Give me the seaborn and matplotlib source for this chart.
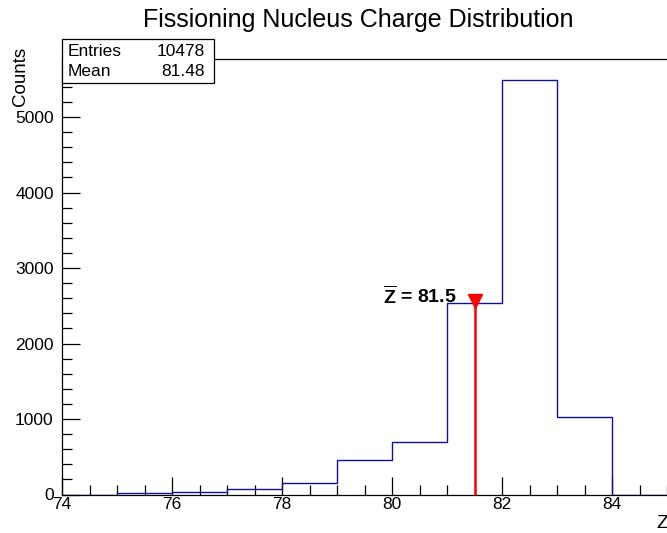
import numpy as np
import pandas as pd
import matplotlib
matplotlib.use("Agg")
import matplotlib.pyplot as plt
from matplotlib.patches import Rectangle
from matplotlib.ticker import MultipleLocator
import seaborn as sns

# ---- data ----
bin_left = [74, 75, 76, 77, 78, 79, 80, 81, 82, 83, 84]
counts = [0, 18, 30, 68, 155, 455, 695, 2540, 5495, 1022, 0]
bin_edges = list(range(74, 86))
mean_z = 81.5
stats_labels = ["Entries", "Mean"]
stats_values = ["10478", "81.48"]
title = "Fissioning Nucleus Charge Distribution"
xlabel = "Z"
ylabel = "Counts"

sns.set_style("ticks")
plt.rcParams["font.family"] = ["Liberation Sans", "DejaVu Sans"]
plt.rcParams["mathtext.fontset"] = "custom"
plt.rcParams["mathtext.rm"] = "Liberation Sans"
plt.rcParams["mathtext.bf"] = "Liberation Sans:bold"
plt.rcParams["text.color"] = "black"
plt.rcParams["axes.labelcolor"] = "black"
plt.rcParams["xtick.color"] = "black"
plt.rcParams["ytick.color"] = "black"

W, H = 667, 533
fig = plt.figure(figsize=(W / 100, H / 100), dpi=100)
ax_l, ax_r, ax_b, ax_t = 62, 667, 494.5, 59
ax = fig.add_axes([ax_l / W, 1 - ax_b / H, (ax_r - ax_l) / W, (ax_b - ax_t) / H])

df = pd.DataFrame({"z": bin_left, "n": counts})
sns.histplot(data=df, x="z", weights="n", bins=bin_edges, element="step",
             fill=False, color="#10109a", linewidth=1.0, ax=ax)

ymax = 1.05 * max(counts)
ax.set_xlim(74, 85)
ax.set_ylim(0, ymax)

# red mean marker
peak = counts[bin_left.index(int(mean_z))]
ax.vlines(mean_z, 0, peak, color="#ff0000", linewidth=1.8, zorder=3)
ax.plot([mean_z], [peak + 30], marker="v", color="#ff0000", markersize=10,
        linestyle="none", zorder=4)
ax.text(mean_z - 0.33, peak + 80, r"$\mathbf{\overline{Z}}$ = " + f"{mean_z}",
        fontsize=14, fontweight="bold", ha="right", va="center", color="black")

# axes styling (ROOT look)
ax.spines["right"].set_visible(False)
for s in ["left", "bottom", "top"]:
    ax.spines[s].set_color("black")
    ax.spines[s].set_linewidth(0.9)
ax.xaxis.set_major_locator(MultipleLocator(2))
ax.xaxis.set_minor_locator(MultipleLocator(0.5))
ax.yaxis.set_major_locator(MultipleLocator(1000))
ax.yaxis.set_minor_locator(MultipleLocator(200))
ax.tick_params(axis="both", which="major", direction="in", length=13, width=0.9,
               labelsize=12.5, colors="black")
ax.tick_params(axis="both", which="minor", direction="in", length=7, width=0.9)
ax.tick_params(axis="x", which="both", top=False, pad=2)
ax.tick_params(axis="y", which="both", right=False, pad=6)
ax.set_xlabel("")
ax.set_ylabel("")

# title and axis titles
fig.text(358 / W, 1 - 20 / H, title, ha="center", va="center", fontsize=18)
fig.text(662 / W, 1 - 523 / H, xlabel, ha="center", va="center", fontsize=14)
fig.text(20 / W, 1 - 47 / H, ylabel, ha="center", va="top", rotation=90, fontsize=13.5)

# stats box
bx0, bx1, by0, by1 = 62, 214, 39, 83
fig.patches.append(Rectangle((bx0 / W, 1 - by1 / H), (bx1 - bx0) / W, (by1 - by0) / H,
                             transform=fig.transFigure, facecolor="white",
                             edgecolor="black", linewidth=0.9, zorder=5))
for i, (lab, val) in enumerate(zip(stats_labels, stats_values)):
    yy = 1 - (51 + i * 20) / H
    fig.text(68 / W, yy, lab, ha="left", va="center", fontsize=12.5, zorder=6)
    fig.text(205 / W, yy, val, ha="right", va="center", fontsize=12.5, zorder=6)

fig.savefig("out.png", dpi=100)
